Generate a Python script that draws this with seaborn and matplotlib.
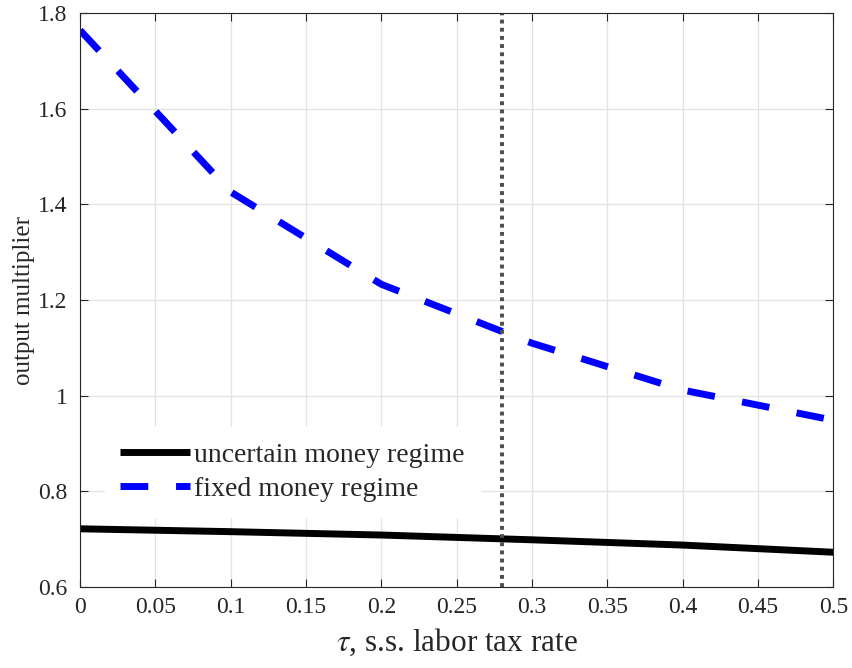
import numpy as np
import pandas as pd
import seaborn as sns
import matplotlib.pyplot as plt

sns.set_theme(style="ticks")
plt.rcParams["font.family"] = ["Liberation Serif", "DejaVu Serif"]
plt.rcParams["mathtext.fontset"] = "stix"

# данные
tau = [0.0, 0.1, 0.2, 0.3, 0.4, 0.5]
uncertain = [0.722, 0.716, 0.709, 0.699, 0.688, 0.673]
fixed = [1.764, 1.426, 1.233, 1.110, 1.012, 0.949]
tau_ss = 0.28

x_ticks = [0, 0.05, 0.1, 0.15, 0.2, 0.25, 0.3, 0.35, 0.4, 0.45, 0.5]
x_labels = ["0", "0.05", "0.1", "0.15", "0.2", "0.25", "0.3", "0.35", "0.4", "0.45", "0.5"]
y_ticks = [0.6, 0.8, 1.0, 1.2, 1.4, 1.6, 1.8]
y_labels = ["0.6", "0.8", "1", "1.2", "1.4", "1.6", "1.8"]

data = pd.DataFrame({"tau": tau, "uncertain": uncertain, "fixed": fixed})

fig = plt.figure(figsize=(8.52, 6.68), dpi=100)
ax = fig.add_axes([0.094, 0.121, 0.884, 0.8595])

sns.lineplot(data=data, x="tau", y="uncertain", ax=ax, color="black",
             linewidth=5, label="uncertain money regime")
sns.lineplot(data=data, x="tau", y="fixed", ax=ax, color="#0000ff",
             linewidth=5, label="fixed money regime")
ax.lines[0].set_solid_capstyle("butt")
ax.lines[1].set_dashes((4.0, 4.0))
ax.lines[1].set_dash_capstyle("butt")
ax.axvline(tau_ss, color="#4d4d4d", linewidth=2.8, dashes=(1.0, 1.1))

ax.set_xlim(0, 0.5)
ax.set_ylim(0.6, 1.8)
ax.set_xticks(x_ticks)
ax.set_xticklabels(x_labels)
ax.set_yticks(y_ticks)
ax.set_yticklabels(y_labels)
ax.grid(True, color="#e3e3e3", linewidth=0.9)
ax.set_axisbelow(True)
ax.tick_params(direction="in", top=True, right=True, length=6, width=0.8,
               labelsize=17, colors="#262626", labelcolor="#262626")
ax.tick_params(axis="x", pad=7)
ax.tick_params(axis="y", pad=9)
for s in ax.spines.values():
    s.set_color("#262626")
    s.set_linewidth(0.8)

ax.set_xlabel(r"$\tau$, s.s. labor tax rate", fontsize=22.5, color="#262626", labelpad=6)
ax.set_ylabel("output multiplier", fontsize=18, color="#262626", labelpad=2)

leg = ax.legend(loc="upper left", bbox_to_anchor=(0.0332, 0.2787), frameon=True,
                fontsize=20, handlelength=2.5, handletextpad=0.15,
                labelspacing=0.3, borderpad=0.55, borderaxespad=0)
leg.get_frame().set_facecolor("white")
leg.get_frame().set_edgecolor("white")
leg.get_frame().set_alpha(1.0)
leg.get_frame().set_boxstyle("square", pad=0)
for h in leg.get_lines():
    h.set_solid_capstyle("butt")
    h.set_dash_capstyle("butt")

fig.savefig("out.png", dpi=100)
